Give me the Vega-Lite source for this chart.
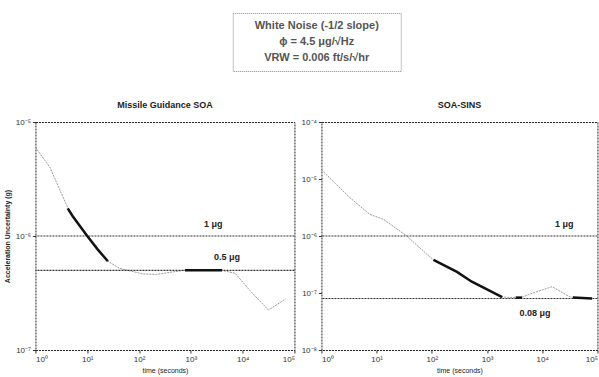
{
  "$schema": "https://vega.github.io/schema/vega-lite/v6.json",
  "background": "white",
  "padding": {"left": 2, "top": 12, "right": 2, "bottom": 2},
  "config": {
    "font": "Liberation Sans",
    "view": {"stroke": "#222", "strokeWidth": 1, "strokeDash": [2, 1]},
    "axis": {"grid": false, "domain": false, "tickColor": "#333", "tickSize": 3, "labelFontSize": 8, "labelColor": "#333", "titleFontSize": 7, "titleColor": "#222", "labelPadding": 2},
    "title": {"fontSize": 9, "fontWeight": "bold", "color": "#222", "offset": 8}
  },
  "datasets": {
    "box": [
      {"line": 1, "text": "White Noise (-1/2 slope)"},
      {"line": 2, "text": "ϕ = 4.5  μg/√Hz"},
      {"line": 3, "text": "VRW = 0.006 ft/s/√hr"}
    ],
    "leftRefs": [{"a": 1e-6, "label": "1 μg"}, {"a": 5e-7, "label": "0.5 μg"}],
    "rightRefs": [{"a": 1e-6, "label": "1 μg"}, {"a": 8e-8, "label": "0.08 μg"}],
    "left": [
      {"seg": "curve", "t": 1.0, "a": 6.0e-6},
      {"seg": "curve", "t": 1.9, "a": 4.0e-6},
      {"seg": "curve", "t": 4.0, "a": 1.86e-6},
      {"seg": "curve", "t": 5.2, "a": 1.52e-6},
      {"seg": "curve", "t": 10, "a": 1.0e-6},
      {"seg": "curve", "t": 16, "a": 7.6e-7},
      {"seg": "curve", "t": 25, "a": 6.0e-7},
      {"seg": "curve", "t": 42, "a": 5.2e-7},
      {"seg": "curve", "t": 118, "a": 4.65e-7},
      {"seg": "curve", "t": 220, "a": 4.6e-7},
      {"seg": "curve", "t": 395, "a": 4.8e-7},
      {"seg": "curve", "t": 770, "a": 5.0e-7},
      {"seg": "curve", "t": 4000, "a": 5.0e-7},
      {"seg": "curve", "t": 7200, "a": 4.7e-7},
      {"seg": "curve", "t": 14000, "a": 3.3e-7},
      {"seg": "curve", "t": 31600, "a": 2.24e-7},
      {"seg": "curve", "t": 67000, "a": 2.8e-7},
      {"seg": "thick1", "t": 4.2, "a": 1.75e-6},
      {"seg": "thick1", "t": 5.2, "a": 1.5e-6},
      {"seg": "thick1", "t": 10, "a": 1.0e-6},
      {"seg": "thick1", "t": 16, "a": 7.6e-7},
      {"seg": "thick1", "t": 25, "a": 6.0e-7},
      {"seg": "thick2", "t": 770, "a": 5.0e-7},
      {"seg": "thick2", "t": 4000, "a": 5.0e-7}
    ],
    "right": [
      {"seg": "curve", "t": 1.0, "a": 1.45e-5},
      {"seg": "curve", "t": 3.2, "a": 4.8e-6},
      {"seg": "curve", "t": 7.5, "a": 2.4e-6},
      {"seg": "curve", "t": 13.4, "a": 1.95e-6},
      {"seg": "curve", "t": 35, "a": 1.0e-6},
      {"seg": "curve", "t": 92, "a": 4.3e-7},
      {"seg": "curve", "t": 107, "a": 3.8e-7},
      {"seg": "curve", "t": 285, "a": 2.35e-7},
      {"seg": "curve", "t": 530, "a": 1.58e-7},
      {"seg": "curve", "t": 1880, "a": 8.5e-8},
      {"seg": "curve", "t": 4000, "a": 8.2e-8},
      {"seg": "curve", "t": 5700, "a": 9.4e-8},
      {"seg": "curve", "t": 15000, "a": 1.29e-7},
      {"seg": "curve", "t": 32000, "a": 8.5e-8},
      {"seg": "curve", "t": 81000, "a": 8.0e-8},
      {"seg": "thick1", "t": 107, "a": 3.8e-7},
      {"seg": "thick1", "t": 285, "a": 2.35e-7},
      {"seg": "thick1", "t": 530, "a": 1.58e-7},
      {"seg": "thick1", "t": 1880, "a": 8.5e-8},
      {"seg": "thick2", "t": 3300, "a": 8.3e-8},
      {"seg": "thick2", "t": 4300, "a": 8.3e-8},
      {"seg": "thick3", "t": 36000, "a": 8.3e-8},
      {"seg": "thick3", "t": 80000, "a": 8.0e-8}
    ]
  },
  "center": true,
  "spacing": 28,
  "vconcat": [
    {
      "width": 168,
      "height": 58,
      "view": {"stroke": "#888", "strokeDash": [1, 1]},
      "data": {"name": "box"},
      "mark": {"type": "text", "fontSize": 11, "fontWeight": "bold", "color": "#555"},
      "encoding": {
        "y": {"field": "line", "type": "ordinal", "axis": null, "scale": {"padding": 0.8}},
        "text": {"field": "text"}
      }
    },
    {
      "spacing": 4,
      "hconcat": [
        {
          "width": 259,
          "height": 228,
          "title": "Missile Guidance SOA",
          "layer": [
            {
              "data": {"name": "left"},
              "transform": [{"filter": "datum.seg == 'curve'"}],
              "mark": {"type": "line", "color": "#999", "strokeWidth": 1, "strokeDash": [2, 1]},
              "encoding": {
                "x": {"field": "t", "type": "quantitative", "scale": {"type": "log", "domain": [1, 100000]},
                  "axis": {"title": "time (seconds)", "values": [1, 10, 100, 1000, 10000, 100000], "labelExpr": "'10' + ['⁰','¹','²','³','⁴','⁵'][round(log(datum.value)/LN10)]", "titleFontWeight": "normal", "titlePadding": 3}},
                "y": {"field": "a", "type": "quantitative", "scale": {"type": "log", "domain": [1e-7, 1e-5]},
                  "axis": {"title": "Acceleration Uncertainty (g)", "values": [1e-7, 1e-6, 1e-5], "labelExpr": "'10' + ['⁰','⁻¹','⁻²','⁻³','⁻⁴','⁻⁵','⁻⁶','⁻⁷','⁻⁸'][-round(log(datum.value)/LN10)]", "titleFontWeight": "bold", "titlePadding": 5}}
              }
            },
            {
              "data": {"name": "leftRefs"},
              "mark": {"type": "rule", "color": "#333", "strokeDash": [2, 1], "strokeWidth": 1.2},
              "encoding": {"y": {"field": "a", "type": "quantitative"}}
            },
            {
              "data": {"name": "left"},
              "transform": [{"filter": "datum.seg != 'curve'"}],
              "mark": {"type": "line", "color": "#111", "strokeWidth": 2.5},
              "encoding": {
                "x": {"field": "t", "type": "quantitative"},
                "y": {"field": "a", "type": "quantitative"},
                "detail": {"field": "seg"}
              }
            },
            {
              "data": {"values": [{"label": "1 μg"}]},
              "mark": {"type": "text", "fontSize": 9, "fontWeight": "bold", "color": "#222", "dy": -12},
              "encoding": {"x": {"datum": 2700}, "y": {"datum": 1e-6}, "text": {"field": "label"}}
            },
            {
              "data": {"values": [{"label": "0.5 μg"}]},
              "mark": {"type": "text", "fontSize": 9, "fontWeight": "bold", "color": "#222", "dy": -13},
              "encoding": {"x": {"datum": 5000}, "y": {"datum": 5e-7}, "text": {"field": "label"}}
            }
          ]
        },
        {
          "width": 276,
          "height": 228,
          "title": "SOA-SINS",
          "layer": [
            {
              "data": {"name": "right"},
              "transform": [{"filter": "datum.seg == 'curve'"}],
              "mark": {"type": "line", "color": "#999", "strokeWidth": 1, "strokeDash": [2, 1]},
              "encoding": {
                "x": {"field": "t", "type": "quantitative", "scale": {"type": "log", "domain": [1, 100000]},
                  "axis": {"title": "time (seconds)", "values": [1, 10, 100, 1000, 10000, 100000], "labelExpr": "'10' + ['⁰','¹','²','³','⁴','⁵'][round(log(datum.value)/LN10)]", "titleFontWeight": "normal", "titlePadding": 3}},
                "y": {"field": "a", "type": "quantitative", "scale": {"type": "log", "domain": [1e-8, 1e-4]},
                  "axis": {"title": null, "values": [1e-8, 1e-7, 1e-6, 1e-5, 1e-4], "labelExpr": "'10' + ['⁰','⁻¹','⁻²','⁻³','⁻⁴','⁻⁵','⁻⁶','⁻⁷','⁻⁸'][-round(log(datum.value)/LN10)]"}}
              }
            },
            {
              "data": {"name": "rightRefs"},
              "mark": {"type": "rule", "color": "#333", "strokeDash": [2, 1], "strokeWidth": 1.2},
              "encoding": {"y": {"field": "a", "type": "quantitative"}}
            },
            {
              "data": {"name": "right"},
              "transform": [{"filter": "datum.seg != 'curve'"}],
              "mark": {"type": "line", "color": "#111", "strokeWidth": 2.5},
              "encoding": {
                "x": {"field": "t", "type": "quantitative"},
                "y": {"field": "a", "type": "quantitative"},
                "detail": {"field": "seg"}
              }
            },
            {
              "data": {"values": [{"label": "1 μg"}]},
              "mark": {"type": "text", "fontSize": 9, "fontWeight": "bold", "color": "#222", "dy": -12},
              "encoding": {"x": {"datum": 25000}, "y": {"datum": 1e-6}, "text": {"field": "label"}}
            },
            {
              "data": {"values": [{"label": "0.08 μg"}]},
              "mark": {"type": "text", "fontSize": 9, "fontWeight": "bold", "color": "#222", "dy": 14},
              "encoding": {"x": {"datum": 7400}, "y": {"datum": 8e-8}, "text": {"field": "label"}}
            }
          ]
        }
      ]
    }
  ]
}
